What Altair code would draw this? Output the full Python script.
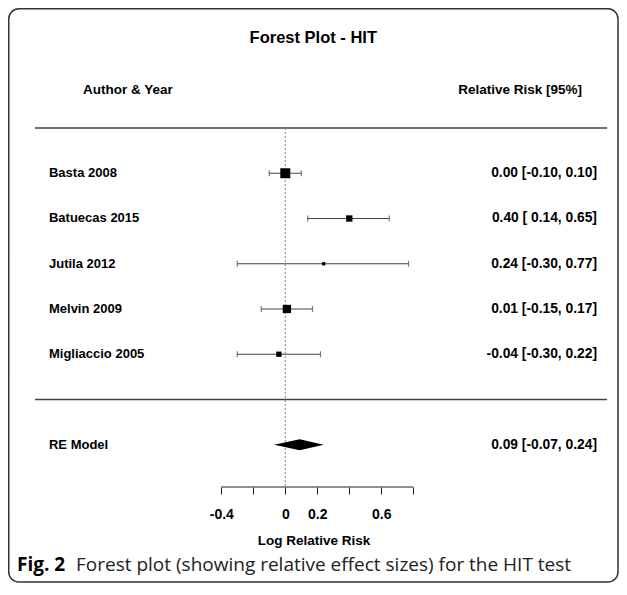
import altair as alt
import pandas as pd

# ---------------- data ----------------
studies = ["Basta 2008", "Batuecas 2015", "Jutila 2012", "Melvin 2009", "Migliaccio 2005"]
estimates = [0.00, 0.40, 0.24, 0.01, -0.04]
ci_lower = [-0.10, 0.14, -0.30, -0.15, -0.30]
ci_upper = [0.10, 0.65, 0.77, 0.17, 0.22]
weights = [40.3, 16.1, 4.4, 27.8, 11.3]
rows = [5, 4, 3, 2, 1]

re_label = "RE Model"
re_estimate = 0.09
re_lower = -0.07
re_upper = 0.24
re_row = -1

tick_values = [-0.4, -0.2, 0, 0.2, 0.4, 0.6, 0.8]
shown_label_values = [-0.4, 0, 0.2, 0.6]

title_text = "Forest Plot - HIT"
left_header = "Author & Year"
right_header = "Relative Risk [95%]"
x_title = "Log Relative Risk"
caption_bold = "Fig. 2"
caption_rest = "Forest plot (showing relative effect sizes) for the HIT test"

# ---------------- layout ----------------
W, H = 611, 479
X_DOMAIN = [-1.733, 2.0856]
Y_DOMAIN = [-1.934, 8.652]
TOP_ROW, SEP_ROW = 6, 0
TITLE_ROW, HEADER_ROW = 8.0, 6.83
TITLE_X = 0.175
LINE_X = [-1.564, 2.011]
LABEL_X, HEADER_LEFT_X = -1.477, -1.264
VALUE_X, HEADER_RIGHT_X = 1.948, 1.854
DIAMOND_H = 0.12
FONT = "Liberation Sans"

xs = alt.Scale(domain=X_DOMAIN, nice=False, zero=False)
ys = alt.Scale(domain=Y_DOMAIN, nice=False, zero=False)

def fmt(e, l, h):
    return f"{e:.2f} [{l:5.2f}, {h:.2f}]"

df = pd.DataFrame({
    "study": studies, "est": estimates, "lo": ci_lower, "hi": ci_upper,
    "w": weights, "row": rows,
})
df["txt"] = [fmt(e, l, h) for e, l, h in zip(estimates, ci_lower, ci_upper)]

re_df = pd.DataFrame({"study": [re_label], "row": [re_row],
                      "txt": [fmt(re_estimate, re_lower, re_upper)]})
labels_df = pd.concat([df[["study", "row", "txt"]], re_df], ignore_index=True)

diamond_df = pd.DataFrame({
    "x": [re_lower, re_estimate, re_upper],
    "y": [re_row, re_row + DIAMOND_H, re_row],
    "y2": [re_row, re_row - DIAMOND_H, re_row],
})

label_expr = "".join(
    f"abs(datum.value - ({v})) < 1e-6 ? '{v:g}' : " for v in shown_label_values
) + "''"

axis = alt.Axis(
    values=tick_values, labelExpr=label_expr, domain=False, grid=False,
    tickSize=7, tickColor="#222", tickWidth=1,
    labelFont=FONT, labelFontSize=14, labelFontWeight="bold", labelColor="black",
    labelPadding=13, labelFlush=False,
    title=x_title, titleFont=FONT, titleFontSize=13.5, titleFontWeight="bold",
    titleColor="black", titleBaseline="top", titleY=46,
)


def X(field):
    return alt.X(field, scale=xs, axis=axis)


def Y(field):
    return alt.Y(field, scale=ys, axis=None)


base = alt.Chart(df)

# error bars
bars = base.mark_rule(color="#444", strokeWidth=1.2).encode(
    x=X("lo:Q"), x2="hi:Q", y=Y("row:Q"),
)
caps = base.transform_fold(["lo", "hi"], as_=["end", "xv"]).mark_tick(
    orient="vertical", size=6, thickness=1.2, color="#444"
).encode(x=X("xv:Q"), y=Y("row:Q"))
squares = base.mark_square(color="black", opacity=1).encode(
    x=X("est:Q"), y=Y("row:Q"),
    size=alt.Size("w:Q", scale=alt.Scale(domain=[0, max(weights)], range=[0, 100]), legend=None),
)

diamond = alt.Chart(diamond_df).mark_area(color="black", opacity=1).encode(
    x=X("x:Q"), y=Y("y:Q"), y2="y2:Q",
)

# reference line at 0
ref_df = pd.DataFrame({"x": [0], "y": [TOP_ROW], "y2": [Y_DOMAIN[0]]})
ref = alt.Chart(ref_df).mark_rule(color="#888", strokeDash=[2, 2], strokeWidth=1).encode(
    x=X("x:Q"), y=Y("y:Q"), y2="y2:Q",
)

# separator lines
sep_df = pd.DataFrame({"y": [TOP_ROW, SEP_ROW], "x": [LINE_X[0]] * 2, "x2": [LINE_X[1]] * 2})
seps = alt.Chart(sep_df).mark_rule(color="#444", strokeWidth=1.5).encode(
    x=X("x:Q"), x2="x2:Q", y=Y("y:Q"),
)

# axis line over the tick range
axl_df = pd.DataFrame({"x": [tick_values[0]], "x2": [tick_values[-1]], "y": [Y_DOMAIN[0]]})
axline = alt.Chart(axl_df).mark_rule(color="#222", strokeWidth=1).encode(
    x=X("x:Q"), x2="x2:Q", y=Y("y:Q"),
)

# texts
left_txt = alt.Chart(labels_df).mark_text(
    align="left", baseline="middle", font=FONT, fontSize=13, fontWeight="bold", color="black"
).encode(x=alt.datum(LABEL_X, scale=xs, axis=axis), y=Y("row:Q"), text="study:N")
right_txt = alt.Chart(labels_df).mark_text(
    align="right", baseline="middle", font=FONT, fontSize=13.8, fontWeight="bold", color="black"
).encode(x=alt.datum(VALUE_X, scale=xs, axis=axis), y=Y("row:Q"), text="txt:N")

hdr_df = pd.DataFrame({"l": [left_header], "r": [right_header], "t": [title_text]})
hdr_left = alt.Chart(hdr_df).mark_text(
    align="left", baseline="middle", font=FONT, fontSize=13.5, fontWeight="bold", color="black"
).encode(x=alt.datum(HEADER_LEFT_X, scale=xs, axis=axis),
         y=alt.datum(HEADER_ROW, scale=ys, axis=None), text="l:N")
hdr_right = alt.Chart(hdr_df).mark_text(
    align="right", baseline="middle", font=FONT, fontSize=13.5, fontWeight="bold", color="black"
).encode(x=alt.datum(HEADER_RIGHT_X, scale=xs, axis=axis),
         y=alt.datum(HEADER_ROW, scale=ys, axis=None), text="r:N")
ttl = alt.Chart(hdr_df).mark_text(
    align="center", baseline="middle", font=FONT, fontSize=16.5, fontWeight="bold", color="black"
).encode(x=alt.datum(TITLE_X, scale=xs, axis=axis),
         y=alt.datum(TITLE_ROW, scale=ys, axis=None), text="t:N")

cap_df = pd.DataFrame({"a": [caption_bold], "b": [caption_rest]})
cap1 = alt.Chart(cap_df).mark_text(
    align="left", baseline="middle", font="Open Sans", fontSize=19, fontWeight="bold", color="black"
).encode(x=alt.value(9), y=alt.value(557), text="a:N")
cap2 = alt.Chart(cap_df).mark_text(
    align="left", baseline="middle", font="Open Sans", fontSize=19, color="#222"
).encode(x=alt.value(68), y=alt.value(557), text="b:N")

frame = alt.Chart(cap_df).mark_rect(
    fillOpacity=0, stroke="#333", strokeWidth=1.5, cornerRadius=10
).encode(x=alt.value(0.75), x2=alt.value(610), y=alt.value(0.75), y2=alt.value(574))

chart = alt.layer(
    frame, seps, ref, axline, bars, caps, squares, diamond,
    left_txt, right_txt, hdr_left, hdr_right, ttl, cap1, cap2,
).properties(
    width=W, height=H,
    padding={"left": 0, "top": 0, "right": 0, "bottom": 96},
    autosize=alt.AutoSizeParams(type="none"),
    background="white",
).configure_view(stroke="transparent")

chart.save("out.html", embed_options={"renderer": "svg", "actions": False})
